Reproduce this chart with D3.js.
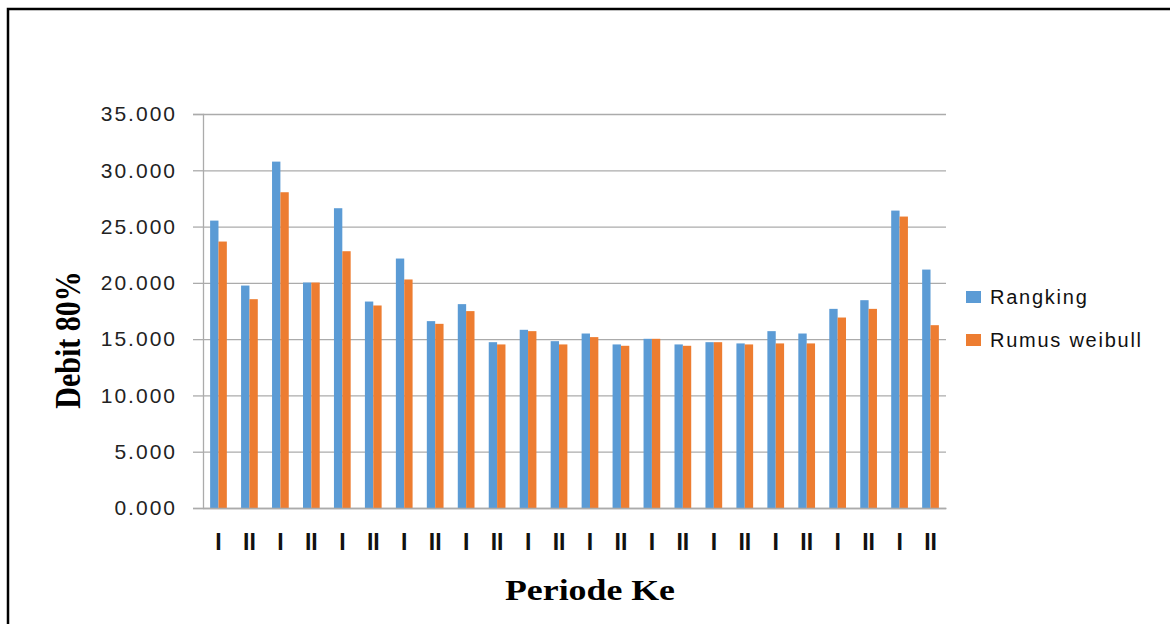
<!DOCTYPE html>
<html lang="en">
<head>
<meta charset="utf-8">
<title>Debit 80%</title>
<script src="https://d3js.org/d3.v7.min.js"></script>
<style>
    html, body { margin: 0; padding: 0; background: #fff; }
    svg { display: block; }
    .tick-label { font-family: "Liberation Sans", Arial, sans-serif; font-size: 21px; letter-spacing: 2px; fill: #222; }
    .cat-label { font-family: "Liberation Sans", Arial, sans-serif; font-size: 23px; font-weight: bold; fill: #111; }
    .axis-title { font-family: "Liberation Serif", "Times New Roman", serif; font-weight: bold; fill: #000; }
    .legend-text { font-family: "Liberation Sans", Arial, sans-serif; font-size: 20px; letter-spacing: 1.75px; fill: #111; }
</style>
</head>
<body>
<svg id="chart"></svg>
<script>
// data
const periods = ["I", "II", "I", "II", "I", "II", "I", "II", "I", "II", "I", "II",
                 "I", "II", "I", "II", "I", "II", "I", "II", "I", "II", "I", "II"];
const seriesNames = ["Rangking", "Rumus weibull"];
const rangking = [25.53, 19.76, 30.77, 20.03, 26.63, 18.34, 22.16, 16.60, 18.11, 14.73, 15.83, 14.82,
                  15.50, 14.53, 15.03, 14.53, 14.73, 14.62, 15.71, 15.50, 17.69, 18.46, 26.42, 21.18];
const weibull  = [23.67, 18.55, 28.05, 20.03, 22.81, 17.99, 20.30, 16.36, 17.49, 14.53, 15.71, 14.53,
                  15.18, 14.41, 15.03, 14.41, 14.73, 14.53, 14.62, 14.62, 16.92, 17.69, 25.89, 16.24];
const yTicks = [0, 5, 10, 15, 20, 25, 30, 35];
const colors = ["#5B9BD5", "#ED7D31"];

const width = 1170, height = 624;
const margin = { top: 114, right: 224, bottom: 116, left: 203 };
const innerW = width - margin.left - margin.right;
const innerH = height - margin.top - margin.bottom;

const svg = d3.select("#chart").attr("width", width).attr("height", height);

// outer frame (top and left edges visible)
svg.append("path")
    .attr("d", `M8,${height} V9 H${width}`)
    .attr("fill", "none")
    .attr("stroke", "#000")
    .attr("stroke-width", 2.5);

const g = svg.append("g").attr("transform", `translate(${margin.left},${margin.top})`);

const x0 = d3.scaleBand()
    .domain(periods.map((p, i) => i))
    .range([0, innerW])
    .paddingInner(0.46)
    .paddingOuter(0.23);

const x1 = d3.scaleBand()
    .domain(seriesNames)
    .range([0, x0.bandwidth()]);

const y = d3.scaleLinear().domain([0, 35]).range([innerH, 0]);

// gridlines
g.append("g")
    .call(d3.axisLeft(y).tickValues(yTicks).tickSize(-innerW).tickFormat(""))
    .call(s => s.select(".domain").remove())
    .call(s => s.selectAll("line").attr("stroke", "#ababab").attr("stroke-width", 1.3));

// y axis
g.append("g")
    .call(d3.axisLeft(y).tickValues(yTicks).tickSize(10).tickPadding(16).tickFormat(d3.format(".3f")))
    .call(s => s.select(".domain").attr("stroke", "#ababab").attr("stroke-width", 1.3))
    .call(s => s.selectAll("line").attr("stroke", "#ababab").attr("stroke-width", 1.3))
    .call(s => s.selectAll("text").attr("class", "tick-label"));

// bars
const rows = periods.map((p, i) => ({ i, values: [rangking[i], weibull[i]] }));
g.append("g")
    .selectAll("g")
    .data(rows)
    .join("g")
    .attr("transform", d => `translate(${x0(d.i)},0)`)
    .selectAll("rect")
    .data(d => d.values.map((v, k) => ({ key: seriesNames[k], v, k })))
    .join("rect")
    .attr("x", d => x1(d.key))
    .attr("y", d => y(d.v))
    .attr("width", x1.bandwidth())
    .attr("height", d => innerH - y(d.v))
    .attr("fill", d => colors[d.k]);

// x axis
g.append("g")
    .attr("transform", `translate(0,${innerH})`)
    .call(d3.axisBottom(x0).tickSize(0).tickPadding(26).tickFormat(i => periods[i]))
    .call(s => s.select(".domain").attr("stroke", "#ababab").attr("stroke-width", 1.3))
    .call(s => s.selectAll("text").attr("class", "cat-label"));

// axis titles
svg.append("text")
    .attr("class", "axis-title")
    .attr("x", 590)
    .attr("y", 600)
    .attr("text-anchor", "middle")
    .style("font-size", "30px")
    .attr("textLength", 170)
    .attr("lengthAdjust", "spacingAndGlyphs")
    .text("Periode Ke");

svg.append("text")
    .attr("class", "axis-title")
    .attr("transform", "translate(80,340) rotate(-90) scale(1,1.2)")
    .attr("text-anchor", "middle")
    .style("font-size", "30px")
    .text("Debit 80%");

// legend
const legend = svg.append("g").attr("transform", "translate(966,297)");
const item = legend.selectAll("g")
    .data(seriesNames)
    .join("g")
    .attr("transform", (d, i) => `translate(0,${i * 43})`);
item.append("rect")
    .attr("x", 0).attr("y", -6)
    .attr("width", 15).attr("height", 12)
    .attr("fill", (d, i) => colors[i]);
item.append("text")
    .attr("class", "legend-text")
    .attr("x", 24)
    .attr("dy", "0.35em")
    .text(d => d);
</script>
</body>
</html>
